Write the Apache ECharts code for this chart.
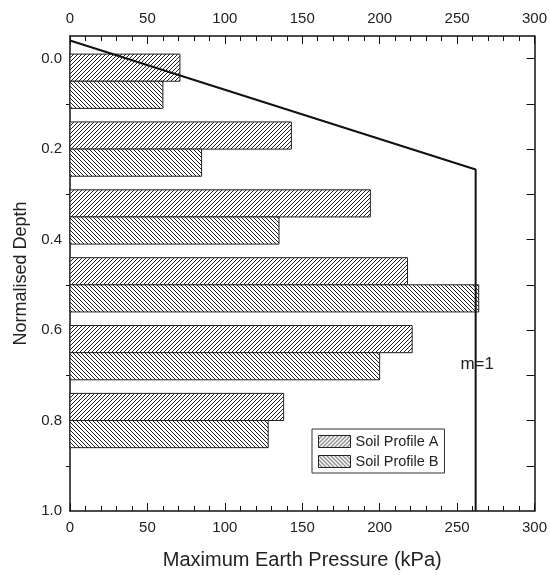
<!DOCTYPE html>
<html>
<head>
<meta charset="utf-8">
<script src="https://cdn.jsdelivr.net/npm/echarts@6/dist/echarts.min.js"></script>
<style>
html,body{margin:0;padding:0;background:#fff;}
#main{width:550px;height:575px;}
</style>
</head>
<body>
<div id="main"></div>
<script>
// 深度(每组中心) 和 两个土层剖面的最大土压力
var depths = [0.05, 0.2, 0.35, 0.5, 0.65, 0.8];
var profileA = [71, 143, 194, 218, 221, 138];
var profileB = [60, 85, 135, 264, 200, 128];
var barDepth = 0.06;
// m=1 曲线
var mLine = [[0, -0.04], [262, 0.245], [262, 1.0]];
var yLabels = [0, 0.2, 0.4, 0.6, 0.8, 1.0];
var yLeftTicks = [0.1, 0.3, 0.5, 0.7, 0.9];
var yRightTicks = [0, 0.1, 0.2, 0.3, 0.4, 0.5, 0.6, 0.7, 0.8, 0.9];

//斜线填充
function hatch(dir){
    var c = document.createElement('canvas');
    c.width = 4; c.height = 4;
    var ctx = c.getContext('2d');
    ctx.fillStyle = '#fff';
    ctx.fillRect(0, 0, 4, 4);
    ctx.strokeStyle = '#222';
    ctx.lineWidth = 1;
    ctx.beginPath();
    if (dir > 0) {
        ctx.moveTo(-1, 5); ctx.lineTo(5, -1);
        ctx.moveTo(-1, 1); ctx.lineTo(1, -1);
        ctx.moveTo(3, 5); ctx.lineTo(5, 3);
    } else {
        ctx.moveTo(-1, -1); ctx.lineTo(5, 5);
        ctx.moveTo(3, -1); ctx.lineTo(5, 1);
        ctx.moveTo(-1, 3); ctx.lineTo(1, 5);
    }
    ctx.stroke();
    return {image: c, repeat: 'repeat'};
}
var patA = hatch(1), patB = hatch(-1);

function makeData(vals){
    return vals.map(function(v, i){ return [v, depths[i]]; });
}

function barRenderer(pattern, offset){
    return function(params, api){
        var v = api.value(0), d = api.value(1);
        var p0 = api.coord([0, d + offset]);
        var p1 = api.coord([v, d + offset + barDepth]);
        return {
            type: 'rect',
            shape: {x: p0[0], y: Math.min(p0[1], p1[1]), width: p1[0] - p0[0], height: Math.abs(p1[1] - p0[1])},
            style: {fill: pattern, stroke: '#222', lineWidth: 1}
        };
    };
}

var font = 'Liberation Sans, Arial, sans-serif';
var lineCol = '#111';
var chart = echarts.init(document.getElementById('main'));
var option = {
    animation: false,
    grid: {left: 70, right: 14, top: 36, bottom: 64},
    legend: {
        left: 312, top: 429,
        orient: 'vertical',
        itemWidth: 32, itemHeight: 12, itemGap: 5,
        padding: [5, 6, 4, 6],
        borderColor: '#333', borderWidth: 1,
        textStyle: {fontFamily: font, fontSize: 14.5, color: '#222'},
        data: [
            {name: 'Soil Profile A', icon: 'rect', itemStyle: {color: patA, borderColor: '#222', borderWidth: 1}},
            {name: 'Soil Profile B', icon: 'rect', itemStyle: {color: patB, borderColor: '#222', borderWidth: 1}}
        ]
    },
    xAxis: [{
        type: 'value', position: 'bottom', min: 0, max: 300, interval: 50,
        name: 'Maximum Earth Pressure (kPa)', nameLocation: 'middle', nameGap: 39,
        nameTextStyle: {fontFamily: font, fontSize: 20, color: '#222'},
        axisLine: {show: true, onZero: false, lineStyle: {color: lineCol, width: 1.5}},
        axisTick: {inside: true, length: 8, lineStyle: {color: lineCol}},
        minorTick: {show: true, splitNumber: 5, length: 5, lineStyle: {color: lineCol}},
        axisLabel: {fontFamily: font, fontSize: 15, color: '#222', margin: 9},
        splitLine: {show: false}
    }, {
        type: 'value', position: 'top', min: 0, max: 300, interval: 50,
        axisLine: {show: true, onZero: false, lineStyle: {color: lineCol, width: 1.5}},
        axisTick: {inside: true, length: 8, lineStyle: {color: lineCol}},
        minorTick: {show: true, splitNumber: 5, length: 5, lineStyle: {color: lineCol}},
        axisLabel: {fontFamily: font, fontSize: 15, color: '#222', margin: 10},
        splitLine: {show: false}
    }],
    yAxis: [{
        type: 'value', position: 'left', inverse: true, min: -0.05, max: 1.0,
        name: 'Normalised Depth', nameLocation: 'middle', nameGap: 40, nameRotate: 90,
        nameTextStyle: {fontFamily: font, fontSize: 18, color: '#222'},
        axisLine: {show: true, onZero: false, lineStyle: {color: lineCol, width: 1.5}},
        axisTick: {show: true, inside: false, length: 4, customValues: yLeftTicks, lineStyle: {color: lineCol}},
        axisLabel: {fontFamily: font, fontSize: 15, color: '#222', margin: 8, customValues: yLabels,
            formatter: function(v){ return v.toFixed(1); }},
        splitLine: {show: false}
    }, {
        type: 'value', position: 'right', inverse: true, min: -0.05, max: 1.0,
        axisLine: {show: true, onZero: false, lineStyle: {color: lineCol, width: 1.5}},
        axisTick: {show: true, inside: true, length: 8, customValues: yRightTicks, lineStyle: {color: lineCol}},
        axisLabel: {show: false},
        splitLine: {show: false}
    }],
    series: [{
        name: 'Soil Profile A', type: 'custom', xAxisIndex: 0, yAxisIndex: 0,
        itemStyle: {color: patA},
        renderItem: barRenderer(patA, -barDepth),
        encode: {x: 0, y: 1},
        data: makeData(profileA)
    }, {
        name: 'Soil Profile B', type: 'custom', xAxisIndex: 0, yAxisIndex: 0,
        itemStyle: {color: patB},
        renderItem: barRenderer(patB, 0),
        encode: {x: 0, y: 1},
        data: makeData(profileB)
    }, {
        name: 'm=1', type: 'line', xAxisIndex: 0, yAxisIndex: 0,
        showSymbol: false, symbol: 'none',
        lineStyle: {color: lineCol, width: 2},
        data: mLine,
        markPoint: {
            symbol: 'circle', symbolSize: 0,
            label: {show: true, position: 'inside', formatter: 'm=1', fontFamily: font, fontSize: 17, color: '#222'},
            data: [{coord: [263, 0.675]}]
        }
    }]
};
chart.setOption(option);
</script>
</body>
</html>
